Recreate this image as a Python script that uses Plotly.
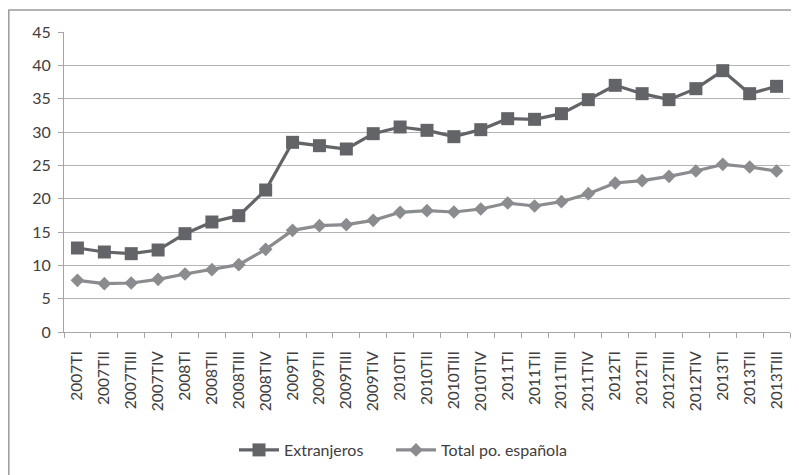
import plotly.graph_objects as go

categories = ["2007TI", "2007TII", "2007TIII", "2007TIV",
              "2008TI", "2008TII", "2008TIII", "2008TIV",
              "2009TI", "2009TII", "2009TIII", "2009TIV",
              "2010TI", "2010TII", "2010TIII", "2010TIV",
              "2011TI", "2011TII", "2011TIII", "2011TIV",
              "2012TI", "2012TII", "2012TIII", "2012TIV",
              "2013TI", "2013TII", "2013TIII"]

extranjeros = [12.6, 12.0, 11.75, 12.3, 14.75, 16.5, 17.45, 21.3,
               28.45, 27.95, 27.45, 29.75, 30.75, 30.25, 29.3, 30.35,
               32.0, 31.9, 32.75, 34.85, 37.0, 35.75, 34.85, 36.5,
               39.2, 35.75, 36.85]

total_esp = [7.75, 7.25, 7.35, 7.9, 8.7, 9.35, 10.1, 12.4,
             15.25, 15.95, 16.1, 16.75, 17.95, 18.2, 18.0, 18.45,
             19.35, 18.9, 19.55, 20.75, 22.35, 22.7, 23.35, 24.15,
             25.15, 24.75, 24.15]

y_ticks = [0, 5, 10, 15, 20, 25, 30, 35, 40, 45]

# page body has an 8px margin; figure is placed at (8, 8)
OFF = 8
W, H = 799 - OFF, 475 - OFF
ML, MR, MT, MB = 64 - OFF, 9, 32 - OFF, 142
pw = W - ML - MR
ph = H - MT - MB

font_family = "Lato, Open Sans, Liberation Sans, sans-serif"
TXT = "#404040"

fig = go.Figure()
fig.add_trace(go.Scatter(
    x=categories, y=extranjeros, name="Extranjeros",
    mode="lines+markers",
    line=dict(color="#636468", width=3.2),
    marker=dict(symbol="square", size=13, color="#636468"),
    legend="legend",
))
fig.add_trace(go.Scatter(
    x=categories, y=total_esp, name="Total po. española",
    mode="lines+markers",
    line=dict(color="#8b8c8f", width=3.2),
    marker=dict(symbol="diamond", size=10.5, color="#8b8c8f"),
    legend="legend2",
))

# outer chart border (extends beyond the window at right/bottom)
fig.add_shape(type="rect", xref="paper", yref="paper",
              x0=(0.8 - ML) / pw, x1=(W + 10 - ML) / pw,
              y0=(H - MB - (H + 10)) / ph, y1=(H - MB - 2) / ph,
              line=dict(color="#9a9a9a", width=1.5), fillcolor="rgba(0,0,0,0)",
              layer="below")

leg_y = (H - MB - (450 - OFF)) / ph
leg_common = dict(orientation="h", yanchor="middle", y=leg_y,
                  xanchor="left", bgcolor="rgba(0,0,0,0)",
                  font=dict(size=16, color=TXT), itemwidth=40)

fig.update_layout(
    width=W, height=H,
    margin=dict(l=ML, r=MR, t=MT, b=MB),
    paper_bgcolor="white", plot_bgcolor="white",
    font=dict(family=font_family, size=15, color=TXT),
    showlegend=True,
    legend=dict(x=(234 - 64) / pw, **leg_common),
    legend2=dict(x=(391 - 64) / pw, **leg_common),
    xaxis=dict(
        type="category", tickangle=-90, tickson="boundaries",
        ticks="outside", ticklen=5, tickcolor="#a6a6a6",
        showline=True, linecolor="#a6a6a6", linewidth=1,
        showgrid=False, tickfont=dict(size=15.5, color=TXT),
        ticklabelstandoff=12,
        range=[-0.5, len(categories) - 0.5], automargin=False,
    ),
    yaxis=dict(
        range=[0, 45], tickvals=y_ticks,
        ticks="outside", ticklen=5, tickcolor="#a6a6a6",
        showline=True, linecolor="#a6a6a6", linewidth=1,
        showgrid=True, gridcolor="#b3b3b3", gridwidth=1,
        zeroline=False, tickfont=dict(size=16, color=TXT),
        ticklabelstandoff=4,
        automargin=False,
    ),
)

fig.write_html("out.html")
